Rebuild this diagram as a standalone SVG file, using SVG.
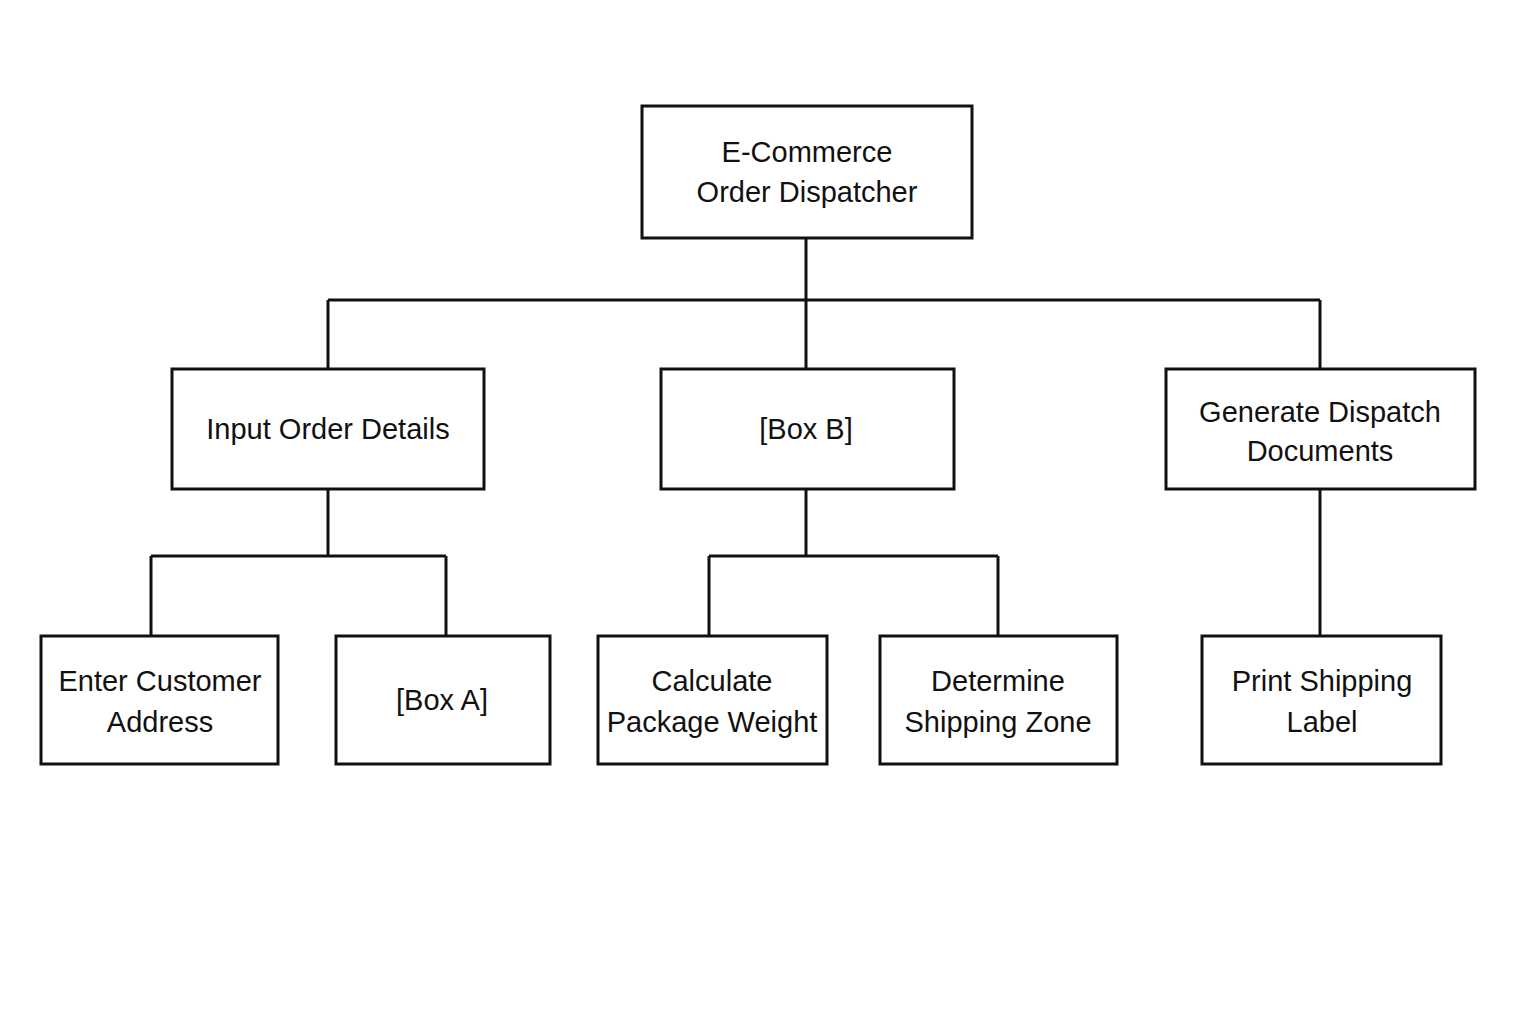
<svg xmlns="http://www.w3.org/2000/svg" width="1536" height="1024" viewBox="0 0 1536 1024">
<style>
rect{fill:#fff;stroke:#111;stroke-width:3}
.c line{stroke:#111;stroke-width:3}
text{font-family:"Liberation Sans",Arial,sans-serif;font-size:29px;fill:#111;text-anchor:middle;dominant-baseline:central}
</style>
<rect x="0" y="0" width="1536" height="1024" style="stroke:none"/>
<g class="c">
<line x1="806" y1="238" x2="806" y2="369"/>
<line x1="328" y1="300" x2="1320" y2="300"/>
<line x1="328" y1="300" x2="328" y2="369"/>
<line x1="1320" y1="300" x2="1320" y2="369"/>
<line x1="328" y1="489" x2="328" y2="556"/>
<line x1="151" y1="556" x2="446" y2="556"/>
<line x1="151" y1="556" x2="151" y2="636"/>
<line x1="446" y1="556" x2="446" y2="636"/>
<line x1="806" y1="489" x2="806" y2="556"/>
<line x1="709" y1="556" x2="998" y2="556"/>
<line x1="709" y1="556" x2="709" y2="636"/>
<line x1="998" y1="556" x2="998" y2="636"/>
<line x1="1320" y1="489" x2="1320" y2="636"/>
</g>
<g id="root"><rect x="642" y="106" width="330" height="132"/><text x="807" y="152">E-Commerce</text><text x="807" y="192">Order Dispatcher</text></g>
<g id="input"><rect x="172" y="369" width="312" height="120"/><text x="328" y="429">Input Order Details</text></g>
<g id="boxb"><rect x="661" y="369" width="293" height="120"/><text x="806" y="429">[Box B]</text></g>
<g id="generate"><rect x="1166" y="369" width="309" height="120"/><text x="1320" y="412">Generate Dispatch</text><text x="1320" y="451">Documents</text></g>
<g id="enter"><rect x="41" y="636" width="237" height="128"/><text x="160" y="681">Enter Customer</text><text x="160" y="722">Address</text></g>
<g id="boxa"><rect x="336" y="636" width="214" height="128"/><text x="442" y="700">[Box A]</text></g>
<g id="calc"><rect x="598" y="636" width="229" height="128"/><text x="712" y="681">Calculate</text><text x="712" y="722">Package Weight</text></g>
<g id="zone"><rect x="880" y="636" width="237" height="128"/><text x="998" y="681">Determine</text><text x="998" y="722">Shipping Zone</text></g>
<g id="print"><rect x="1202" y="636" width="239" height="128"/><text x="1322" y="681">Print Shipping</text><text x="1322" y="722">Label</text></g>
</svg>
